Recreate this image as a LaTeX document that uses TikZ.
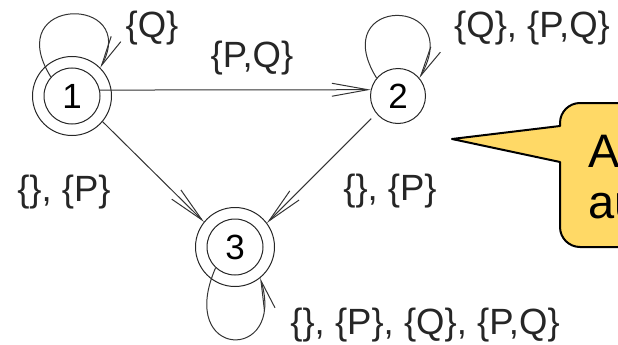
\documentclass[tikz,border=0pt]{standalone}
\usepackage{fontspec}
\setmainfont{Liberation Sans}
\usetikzlibrary{arrows.meta}
\definecolor{callfill}{RGB}{255,217,102}
\begin{document}
\begin{tikzpicture}[x=1pt,y=-1pt,
  lbl/.style={font=\fontsize{36.5}{40}\selectfont, text=black!85, inner sep=0pt},
  st/.style={circle, draw=black!85, line width=1pt, inner sep=0pt, font=\fontsize{35}{40}\selectfont},
  edge/.style={draw=black!80, line width=1pt},
  arr/.style={-{Straight Barb[length=36pt,width=13pt,line width=1pt]}},
  arrl/.style={-{Straight Barb[length=30pt,width=11pt,line width=1pt]}},
  ctext/.style={font=\fontsize{47}{52}\selectfont, text=black, inner sep=0pt},
  callout/.style={fill=callfill, draw=black, line width=2pt, line join=round}]
\clip (0,0) rectangle (618,345);
% states
\node[st, minimum size=56pt] (n1) at (72,96) {1};
\node[st, minimum size=79pt] (n1o) at (72,96) {};
\node[st, minimum size=55pt] (n2) at (398,96) {2};
\node[st, minimum size=56pt] (n3) at (235,247) {3};
\node[st, minimum size=79pt] (n3o) at (235,247) {};
% transitions
\draw[edge, arr] (n1.12) -- (n2.167);
\draw[edge, arr] (n1o.-40) -- (n3o.141);
\draw[edge, arr, shorten <=7pt] (n2.219) -- (n3o.37);
% loops
\draw[edge, arrl] (n1.138) .. controls +(-51,-82) and +(40,-73) .. (n1o.45);
\draw[edge, arrl] (n2.140) .. controls +(-51,-83) and +(47,-83) .. (n2.40);
\draw[edge, arrl] (n3.227) .. controls +(-40,92) and +(26,85) .. (n3o.309);
% labels
\node[lbl] (l1) at (152,28) {\{Q\}};
\node[lbl] (l12) at (252,58) {\{P,Q\}};
\node[lbl] (l2) at (532,28) {\{Q\}, \{P,Q\}};
\node[lbl] (l13) at (64,192) {\{\}, \{P\}};
\node[lbl] (l23) at (390,191) {\{\}, \{P\}};
\node[lbl] (l3) at (425,325) {\{\}, \{P\}, \{Q\}, \{P,Q\}};
% callout
\draw[callout] (640,103) -- (580,103) arc(90:180:20pt) -- (560,126) -- (452,139) -- (560,162) -- (560,227) arc(180:270:20pt) -- (640,247);
\node[ctext, anchor=base west] (c1) at (588,167) {A};
\node[ctext, anchor=base west] (c2) at (588,218) {au};
\end{tikzpicture}
\end{document}
